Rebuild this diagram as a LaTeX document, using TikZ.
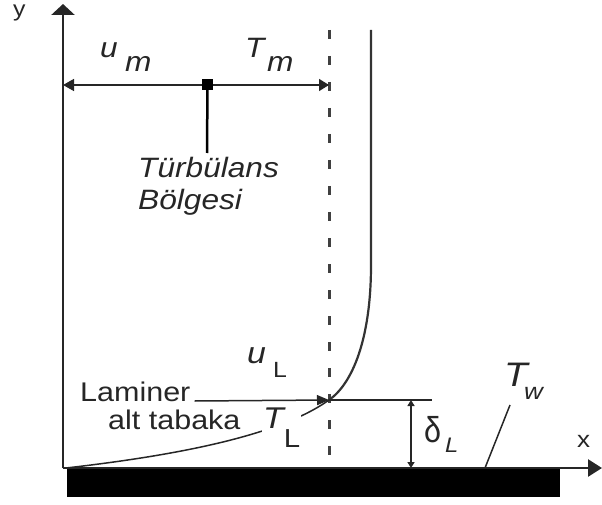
\documentclass[tikz,border=0pt]{standalone}
\usepackage{fontspec}
\usepackage{graphicx}
\setmainfont{Liberation Sans}[FakeStretch=1.13]
\usetikzlibrary{arrows.meta}
\newcommand{\fs}[1]{\fontsize{#1}{#1}\selectfont}
\begin{document}
\begin{tikzpicture}[x=1pt,y=-1pt,
  txt/.style={inner sep=0pt, anchor=base west, text=black!85},
  it/.style={txt, font=\itshape},
  axisline/.style={line width=2.6pt, draw=black!85},
  thinline/.style={line width=1.5pt, draw=black!85},
  profile/.style={line width=2.2pt, draw=black!80},
  bigtip/.style={-{Triangle[length=11pt,width=23pt]}},
  midtip/.style={{Triangle[length=11pt,width=12pt]}-{Triangle[length=10pt,width=12pt]}},
  smalltip/.style={{Triangle[length=6pt,width=7pt]}-{Triangle[length=6pt,width=7pt]}}
]
\useasboundingbox (0,0) rectangle (602,505);

% coordinates
\coordinate (O) at (63,468);
\coordinate (Ytop) at (63,4);
\coordinate (Xend) at (602,468);
\coordinate (D1) at (329,30);
\coordinate (D2) at (329,468);
\coordinate (P) at (329,400);
\coordinate (V1) at (371,30);
\coordinate (V2) at (371,265);
\coordinate (Hl) at (63,85);
\coordinate (Hr) at (329,85);
\coordinate (Stem) at (207,153);
\coordinate (DeltaTopEnd) at (432,400);
\coordinate (DA) at (411,400);
\coordinate (DB) at (411,468);
\coordinate (TwA) at (510,405);
\coordinate (TwB) at (485,468);
\coordinate (TS) at (66,468);

% plate
\fill[black] (67,469) rectangle (560,497);

% axes
\draw[axisline, bigtip] (O) -- (Ytop);
\draw[axisline, -{Triangle[length=14pt,width=17pt]}] (O) -- (Xend);
\node[txt, font=\fs{22}] (ylab) at (13,17) {y};
\node[txt, font=\fs{23}] (xlab) at (577,447) {x};

% dashed line
\draw[line width=3pt, draw=black!75, dash pattern=on 9pt off 17pt] (D1) -- (D2);

% velocity profile
\draw[profile] (V1) -- (V2) .. controls (371,340) and (352,384) .. (P);

% temperature profile
\draw[thinline] (TS) .. controls (180,455) and (280,435) .. (P);

% turbulent region arrows
\draw[thinline, midtip] (Hl) -- (Hr);
\node[fill=black, minimum size=11pt, inner sep=0pt] (sq) at (207.5,84.5) {};
\draw[line width=2.5pt] (sq.center) -- (Stem);
\node[it, font=\fs{28}\itshape] (um) at (100,58) {u};
\node[it, font=\fs{28}\itshape] (ums) at (125,72) {m};
\node[it, font=\fs{28}\itshape] (Tm) at (245,58) {T};
\node[it, font=\fs{28}\itshape] (Tms) at (267,72) {m};
\node[it, font=\fs{28}\itshape] (turb) at (138,178) {Türbülans};
\node[it, font=\fs{28}\itshape] (bolg) at (138,209) {Bölgesi};

% laminar sublayer
\node[txt, font=\fs{27}] (lam) at (80,401) {Laminer};
\node[txt, font=\fs{27}] (alt) at (108,429) {alt tabaka};
\draw[thinline, -{Triangle[length=12pt,width=10pt]}] ([xshift=4pt]lam.base east) -- (P);
\draw[thinline] (P) -- (DeltaTopEnd);
\node[it, font=\fs{30}\itshape] (uL) at (247,363) {u};
\node[txt, font=\fs{22}] (uLs) at (273,377) {L};
\node[txt, fill=white, inner sep=1pt, anchor=base west, font=\fs{30}\itshape] (TL) at (262,428) {T\raisebox{-19pt}{\fs{26}\upshape L}};

% delta
\draw[thinline, smalltip] (DA) -- (DB);
\node[txt, font=\fs{36}] (del) at (424,442) {\scalebox{0.75}[1]{δ}};
\node[it, font=\fs{21}\itshape] (dels) at (445,452) {L};

% wall temperature
\draw[thinline] (TwA) -- (TwB);
\node[it, font=\fs{34}\itshape] (Tw) at (504,386) {T};
\node[it, font=\fs{23}\itshape] (Tws) at (524,399) {w};
\end{tikzpicture}
\end{document}
